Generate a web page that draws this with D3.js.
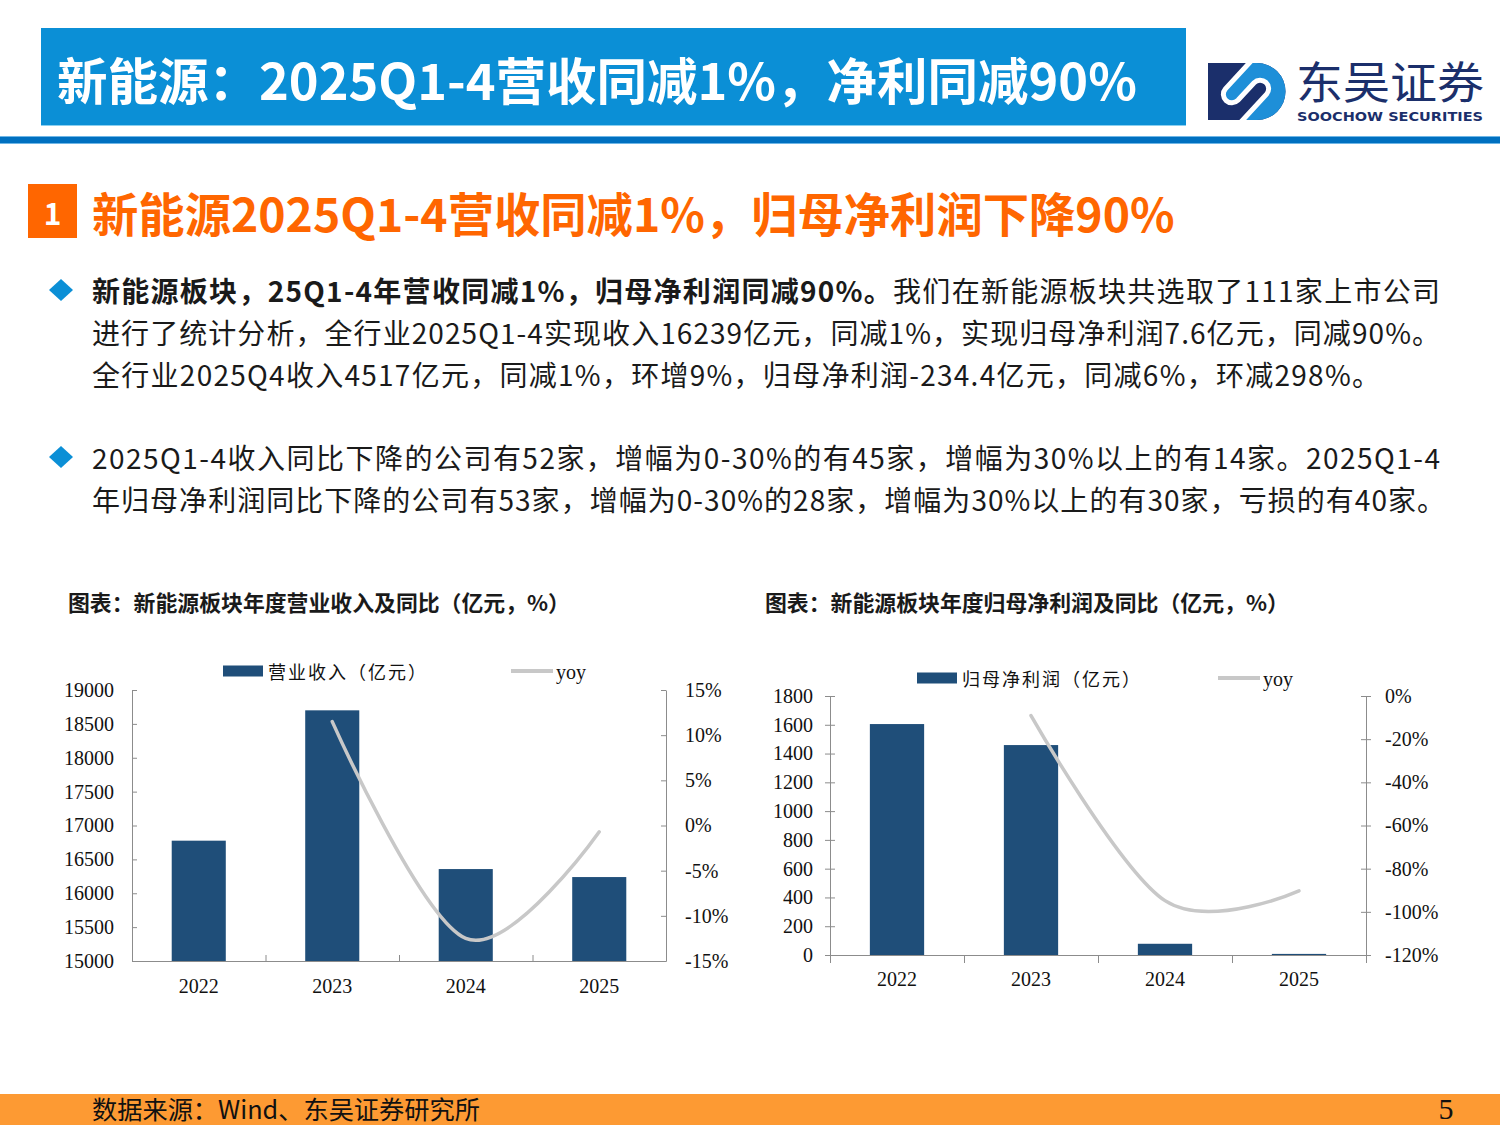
<!DOCTYPE html>
<html><head><meta charset="utf-8">
<script src="https://cdn.jsdelivr.net/npm/d3@7"></script>
<style>
html,body{margin:0;padding:0;background:#fff;}
svg{display:block;}
</style></head>
<body>
<svg id="page" width="1500" height="1125"></svg>
<script>
// ---------- data ----------
const years = ["2022", "2023", "2024", "2025"];
const revenue = [16776, 18700, 16357, 16239];          // 营业收入（亿元）
const revenueYoy = [null, 11.5, -12.5, -0.7];          // %
const profit = [1605, 1459, 78, 7.6];                  // 归母净利润（亿元）
const profitYoy = [null, -9.1, -94.8, -90.3];          // %
const revTicks = [15000, 15500, 16000, 16500, 17000, 17500, 18000, 18500, 19000];
const revPctTicks = [-15, -10, -5, 0, 5, 10, 15];
const profitTicks = [0, 200, 400, 600, 800, 1000, 1200, 1400, 1600, 1800];
const profitPctTicks = [-120, -100, -80, -60, -40, -20, 0];

const headerTitle = "新能源：2025Q1-4营收同减1%，净利同减90%";
const sectionTitle = "新能源2025Q1-4营收同减1%，归母净利润下降90%";
const chartTitleL = "图表：新能源板块年度营业收入及同比（亿元，%）";
const chartTitleR = "图表：新能源板块年度归母净利润及同比（亿元，%）";
const legendBarL = "营业收入（亿元）";
const legendBarR = "归母净利润（亿元）";
const sourceText = "数据来源：Wind、东吴证券研究所";

const BLUE = "#0B8FD6", DARK = "#0070C0", ORANGE = "#FF6600", FOOT = "#FD9A33";
const BAR = "#1F4E79", LINE = "#C8C8C8", AXIS = "#8C8C8C";
const CJK = "'Noto Sans CJK SC','Noto Sans',sans-serif";
const SERIF = "'Liberation Serif','Times New Roman',serif";

const svg = d3.select("#page");

function fitSize(sel, base, target) {
  sel.attr("font-size", base);
  const w = sel.node().getComputedTextLength();
  sel.attr("font-size", base * target / w);
}

// ---------- header ----------
svg.append("rect").attr("x", 41).attr("y", 28).attr("width", 1145).attr("height", 97).attr("fill", BLUE);
svg.append("line").attr("x1", 41).attr("x2", 1186).attr("y1", 125.5).attr("y2", 125.5).attr("stroke", "#8ACFF0").attr("stroke-width", 1);
svg.append("rect").attr("x", 0).attr("y", 136).attr("width", 1500).attr("height", 8).attr("fill", "#6FB6E6");
svg.append("rect").attr("x", 0).attr("y", 137).attr("width", 1500).attr("height", 6).attr("fill", DARK);
const ht = svg.append("text").attr("x", 57).attr("y", 78).attr("dominant-baseline", "central")
  .attr("font-family", CJK).attr("font-weight", "bold").attr("fill", "#fff").text(headerTitle);
fitSize(ht, 46, 1080);

// logo mark: two interlocking hooks separated by a white S band
(function () {
  const defs = svg.append("defs");
  defs.append("clipPath").attr("id", "markClip").append("path")
    .attr("d", "M1208,63 H1257 A28.5,28.5 0 0 1 1257,120 H1208 Z");
  const C = [1246, 91.5];
  const u = [0.679, -0.734], n = [0.734, 0.679];
  const P = (a, b) => [C[0] + a * u[0] + b * n[0], C[1] + a * u[1] + b * n[1]];
  const f = p => p[0].toFixed(1) + "," + p[1].toFixed(1);
  const s1 = P(60, -17), e1 = P(-12, -17), s3 = P(-12, 0), e3 = P(12, 0), s5 = P(12, 17), e5 = P(-60, 17);
  const sPath = `M${f(s1)} L${f(e1)} A8.5,8.5 0 0 0 ${f(s3)} L${f(e3)} A8.5,8.5 0 0 1 ${f(s5)} L${f(e5)}`;
  const mg = svg.append("g").attr("clip-path", "url(#markClip)");
  mg.append("rect").attr("x", 1200).attr("y", 55).attr("width", 100).attr("height", 75).attr("fill", "#1B2F6B");
  mg.append("path").attr("fill", "#1E8FD8").attr("d", sPath + " L1330,150 L1330,30 Z");
  mg.append("path").attr("fill", "none").attr("stroke", "#fff").attr("stroke-width", 5).attr("d", sPath);
})();
svg.append("text").attr("x", 1296).attr("y", 99).attr("font-family", CJK).attr("font-size", 44)
  .attr("fill", "#1B2F6B").attr("textLength", 188).attr("lengthAdjust", "spacingAndGlyphs").text("东吴证券");
svg.append("text").attr("x", 1297).attr("y", 121).attr("font-family", "'DejaVu Sans',sans-serif").attr("font-weight", "bold")
  .attr("font-size", 13).attr("fill", "#1B2F6B").attr("textLength", 186).attr("lengthAdjust", "spacingAndGlyphs").text("SOOCHOW SECURITIES");

// ---------- section title ----------
svg.append("rect").attr("x", 28).attr("y", 184).attr("width", 49).attr("height", 54).attr("fill", ORANGE);
svg.append("text").attr("x", 52.5).attr("y", 212).attr("text-anchor", "middle").attr("dominant-baseline", "central")
  .attr("font-family", CJK).attr("font-weight", "bold").attr("font-size", 30).attr("fill", "#fff").text("1");
const st = svg.append("text").attr("x", 92).attr("y", 211).attr("dominant-baseline", "central")
  .attr("font-family", CJK).attr("font-weight", "bold").attr("fill", ORANGE).text(sectionTitle);
fitSize(st, 44, 1083);

// ---------- body text ----------
const body = [
  {y: 290, w: 1348, parts: [["新能源板块，25Q1-4年营收同减1%，归母净利润同减90%。", true], ["我们在新能源板块共选取了111家上市公司", false]]},
  {y: 332, w: 1348, parts: [["进行了统计分析，全行业2025Q1-4实现收入16239亿元，同减1%，实现归母净利润7.6亿元，同减90%。", false]]},
  {y: 374, w: 1288, parts: [["全行业2025Q4收入4517亿元，同减1%，环增9%，归母净利润-234.4亿元，同减6%，环减298%。", false]]},
  {y: 457, w: 1348, parts: [["2025Q1-4收入同比下降的公司有52家，增幅为0-30%的有45家，增幅为30%以上的有14家。2025Q1-4", false]]},
  {y: 499, w: 1353, parts: [["年归母净利润同比下降的公司有53家，增幅为0-30%的28家，增幅为30%以上的有30家，亏损的有40家。", false]]}
];
const bodyG = svg.append("g").attr("font-family", CJK).attr("fill", "#1a1a1a");
body.forEach(b => {
  const t = bodyG.append("text").attr("x", 92).attr("y", b.y).attr("dominant-baseline", "central").attr("font-size", 28)
    .attr("textLength", b.w).attr("lengthAdjust", "spacing");
  b.parts.forEach(p => t.append("tspan").attr("font-weight", p[1] ? "bold" : "normal").text(p[0]));
});
[290, 457].forEach(cy => {
  svg.append("path").attr("fill", BLUE)
    .attr("d", `M61,${cy - 11} L73,${cy} L61,${cy + 11} L49,${cy} Z`);
});

// ---------- chart titles ----------
const ctL = svg.append("text").attr("x", 68).attr("y", 601).attr("dominant-baseline", "central")
  .attr("font-family", CJK).attr("font-weight", "bold").attr("fill", "#1a1a1a").text(chartTitleL);
fitSize(ctL, 19, 502);
const ctR = svg.append("text").attr("x", 765).attr("y", 601).attr("dominant-baseline", "central")
  .attr("font-family", CJK).attr("font-weight", "bold").attr("fill", "#1a1a1a").text(chartTitleR);
fitSize(ctR, 19, 524);

// ---------- chart builder ----------
function styleAxis(g) {
  g.selectAll(".domain").attr("stroke", AXIS);
  g.selectAll(".tick line").attr("stroke", AXIS);
  g.selectAll("text").attr("font-family", SERIF).attr("font-size", 20).attr("fill", "#111");
}
const pctFmt = d => d + "%";

function chart(cfg) {
  const g = svg.append("g");
  const x = d3.scaleBand().domain(years).range([cfg.x0, cfg.x1]).padding(0);
  const yL = d3.scaleLinear().domain(cfg.lDom).range([cfg.yb, cfg.yt]);
  const yR = d3.scaleLinear().domain(cfg.rDom).range([cfg.yb, cfg.yt]);
  const bw = x.bandwidth() * 0.405;

  // bars
  g.append("g").selectAll("rect").data(years).join("rect")
    .attr("x", d => x(d) + x.bandwidth() / 2 - bw / 2)
    .attr("width", bw)
    .attr("y", (d, i) => yL(Math.max(cfg.bars[i], cfg.lDom[0])))
    .attr("height", (d, i) => cfg.yb - yL(Math.max(cfg.bars[i], cfg.lDom[0])))
    .attr("fill", BAR);

  // axes
  const ts = cfg.cross ? 5 : -5;
  const aL = g.append("g").attr("transform", `translate(${cfg.x0},0)`)
    .call(d3.axisLeft(yL).tickValues(cfg.lTicks).tickSizeInner(ts).tickSizeOuter(0).tickPadding(cfg.cross ? 12 : 18).tickFormat(d3.format("d")));
  if (cfg.cross) aL.selectAll(".tick line").attr("x1", 5);
  styleAxis(aL);
  const aR = g.append("g").attr("transform", `translate(${cfg.x1},0)`)
    .call(d3.axisRight(yR).tickValues(cfg.rTicks).tickSizeInner(ts).tickSizeOuter(0).tickPadding(cfg.cross ? 14 : 19).tickFormat(pctFmt));
  if (cfg.cross) aR.selectAll(".tick line").attr("x1", -5);
  styleAxis(aR);

  // x axis: band boundaries as ticks, labels centered
  const xb = d3.scaleLinear().domain([0, years.length]).range([cfg.x0, cfg.x1]);
  const aX = g.append("g").attr("transform", `translate(0,${cfg.yb})`)
    .call(d3.axisBottom(xb).tickValues(d3.range(0, years.length + 1)).tickSizeInner(cfg.cross ? 8 : -6).tickSizeOuter(0).tickFormat(""));
  styleAxis(aX);
  const aXl = g.append("g").attr("transform", `translate(0,${cfg.yb})`)
    .call(d3.axisBottom(x).tickSize(0).tickPadding(cfg.xPad));
  aXl.select(".domain").remove();
  styleAxis(aXl);

  // yoy line
  const pts = years.map((d, i) => [x(d) + x.bandwidth() / 2, cfg.yoy[i]]).filter(p => p[1] !== null);
  g.append("path").attr("fill", "none").attr("stroke", LINE).attr("stroke-width", 3.5)
    .attr("stroke-linecap", "round")
    .attr("d", d3.line().x(p => p[0]).y(p => yR(p[1])).curve(d3.curveCardinal.tension(0))(pts));

  // legend
  const lg = g.append("g");
  lg.append("rect").attr("x", cfg.lgX).attr("y", cfg.lgY - 5.5).attr("width", 40).attr("height", 11).attr("fill", BAR);
  lg.append("text").attr("x", cfg.lgX + 45).attr("y", cfg.lgY).attr("dominant-baseline", "central")
    .attr("font-family", CJK).attr("font-size", 18).attr("fill", "#111")
    .attr("textLength", cfg.lgTL).attr("lengthAdjust", "spacing").text(cfg.lgText);
  lg.append("line").attr("x1", cfg.lgX2).attr("x2", cfg.lgX2 + 42).attr("y1", cfg.lgY).attr("y2", cfg.lgY)
    .attr("stroke", LINE).attr("stroke-width", 4);
  lg.append("text").attr("x", cfg.lgX2 + 45).attr("y", cfg.lgY + 1).attr("dominant-baseline", "central")
    .attr("font-family", SERIF).attr("font-size", 20).attr("fill", "#111").text("yoy");
}

chart({
  x0: 132, x1: 666, yt: 690, yb: 961,
  lDom: [15000, 19000], rDom: [-15, 15], lTicks: revTicks, rTicks: revPctTicks,
  bars: revenue, yoy: revenueYoy, cross: false, xPad: 18,
  lgX: 223, lgY: 671, lgX2: 511, lgText: legendBarL, lgTL: 158
});
chart({
  x0: 830, x1: 1366, yt: 696, yb: 955,
  lDom: [0, 1800], rDom: [-120, 0], lTicks: profitTicks, rTicks: profitPctTicks,
  bars: profit, yoy: profitYoy, cross: true, xPad: 17,
  lgX: 917, lgY: 678, lgX2: 1218, lgText: legendBarR, lgTL: 178
});

// ---------- footer ----------
svg.append("rect").attr("x", 0).attr("y", 1094).attr("width", 1500).attr("height", 31).attr("fill", FOOT);
const sft = svg.append("text").attr("x", 92).attr("y", 1108).attr("dominant-baseline", "central")
  .attr("font-family", CJK).attr("fill", "#111").text(sourceText);
fitSize(sft, 24, 388);
svg.append("text").attr("x", 1446).attr("y", 1119).attr("text-anchor", "middle")
  .attr("font-family", SERIF).attr("font-size", 30).attr("fill", "#111").text("5");
</script>
</body></html>
